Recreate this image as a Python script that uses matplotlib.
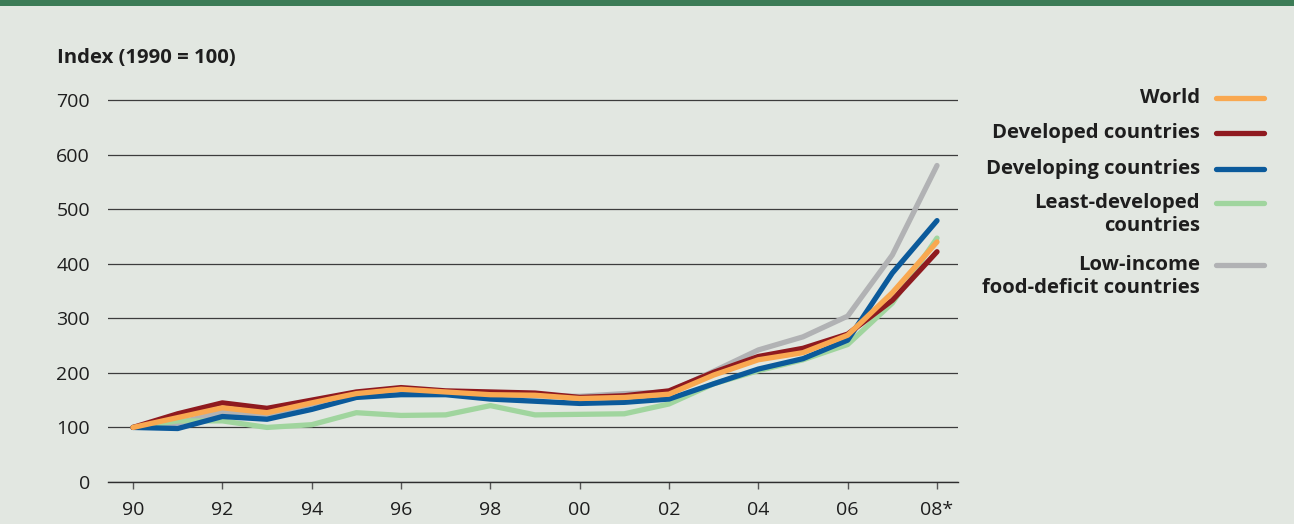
import matplotlib
matplotlib.use("Agg")
import matplotlib.pyplot as plt
from matplotlib.lines import Line2D
from matplotlib.patches import Rectangle

plt.rcParams['font.family'] = ['Open Sans', 'DejaVu Sans']

# data (index, 1990 = 100)
years = ["90", "91", "92", "93", "94", "95", "96", "97", "98", "99",
         "00", "01", "02", "03", "04", "05", "06", "07", "08*"]
tick_labels = ["90", "92", "94", "96", "98", "00", "02", "04", "06", "08*"]

world = [100, 118, 136, 127, 145, 162, 170, 165, 160, 159,
         153, 155, 161, 196, 224, 237, 269, 347, 440]
developed = [100, 125, 145, 135, 150, 165, 173, 167, 165, 163,
             155, 158, 167, 201, 230, 245, 271, 333, 422]
developing = [100, 98, 120, 115, 133, 155, 160, 160, 152, 148,
              144, 146, 152, 180, 207, 226, 260, 383, 479]
least_dev = [100, 112, 112, 100, 105, 127, 122, 123, 140, 123,
             124, 125, 143, 180, 204, 224, 252, 328, 447]
lifd = [100, 108, 128, 123, 143, 160, 170, 165, 160, 158,
        157, 162, 165, 203, 242, 266, 304, 416, 580]

series = [
    ("Low-income\nfood-deficit countries", lifd, "#b1b2b4"),
    ("Least-developed\ncountries", least_dev, "#a0d59e"),
    ("Developing countries", developing, "#0b5a9b"),
    ("Developed countries", developed, "#8f1a1f"),
    ("World", world, "#f9a850"),
]

bg = "#e2e7e1"
fs = 14
fs_bold = 14.6
fig = plt.figure(figsize=(12.94, 5.24), dpi=100, facecolor=bg)
fig.patches.append(Rectangle((0, 1 - 6 / 524), 1, 6 / 524, transform=fig.transFigure,
                             facecolor="#3c7c56", edgecolor="none"))

ax = fig.add_axes([108 / 1294, 42 / 524, 850 / 1294, 384.7 / 524])
ax.set_facecolor(bg)

x = list(range(len(years)))
for name, vals, col in series:
    ax.plot(x, vals, color=col, lw=3.8, solid_capstyle="round", solid_joinstyle="round")

ax.set_xlim(-0.56, 18.47)
ax.set_ylim(0, 705)
ax.set_yticks(range(0, 800, 100))
ax.set_xticks(range(0, 19, 2))
ax.set_xticklabels(tick_labels)
ax.yaxis.grid(True, color="#3c3c3c", lw=0.9)
ax.set_axisbelow(True)
for s in ["top", "right", "left"]:
    ax.spines[s].set_visible(False)
ax.spines["bottom"].set_color("#2e2e2e")
ax.spines["bottom"].set_linewidth(1.0)
ax.tick_params(axis="y", length=0, pad=13, labelsize=fs, labelcolor="#1e1e1e")
ax.tick_params(axis="x", length=5, width=1, color="#555555", pad=9,
               labelsize=fs, labelcolor="#1e1e1e")

fig.text(57 / 1294, 1 - 58 / 524, "Index (1990 = 100)", fontsize=fs_bold,
         fontweight="bold", color="#1e1e1e", va="center", ha="left")

# legend drawn by hand: text right-aligned, line on the right
legend_rows = [("World", 98), ("Developed countries", 133), ("Developing countries", 169),
               ("Least-developed\ncountries", 203), ("Low-income\nfood-deficit countries", 265)]
colors = {name: col for name, vals, col in series}
for name, ypx in legend_rows:
    yf = 1 - ypx / 524
    fig.text(1200 / 1294, yf + 10 / 524, name, fontsize=fs_bold, fontweight="bold",
             color="#1e1e1e", ha="right", va="top", linespacing=1.22)
    fig.add_artist(Line2D([1216 / 1294, 1264 / 1294], [yf, yf], color=colors[name],
                          lw=3.8, solid_capstyle="round", transform=fig.transFigure))

fig.savefig("out.png", dpi=100, facecolor=bg)
